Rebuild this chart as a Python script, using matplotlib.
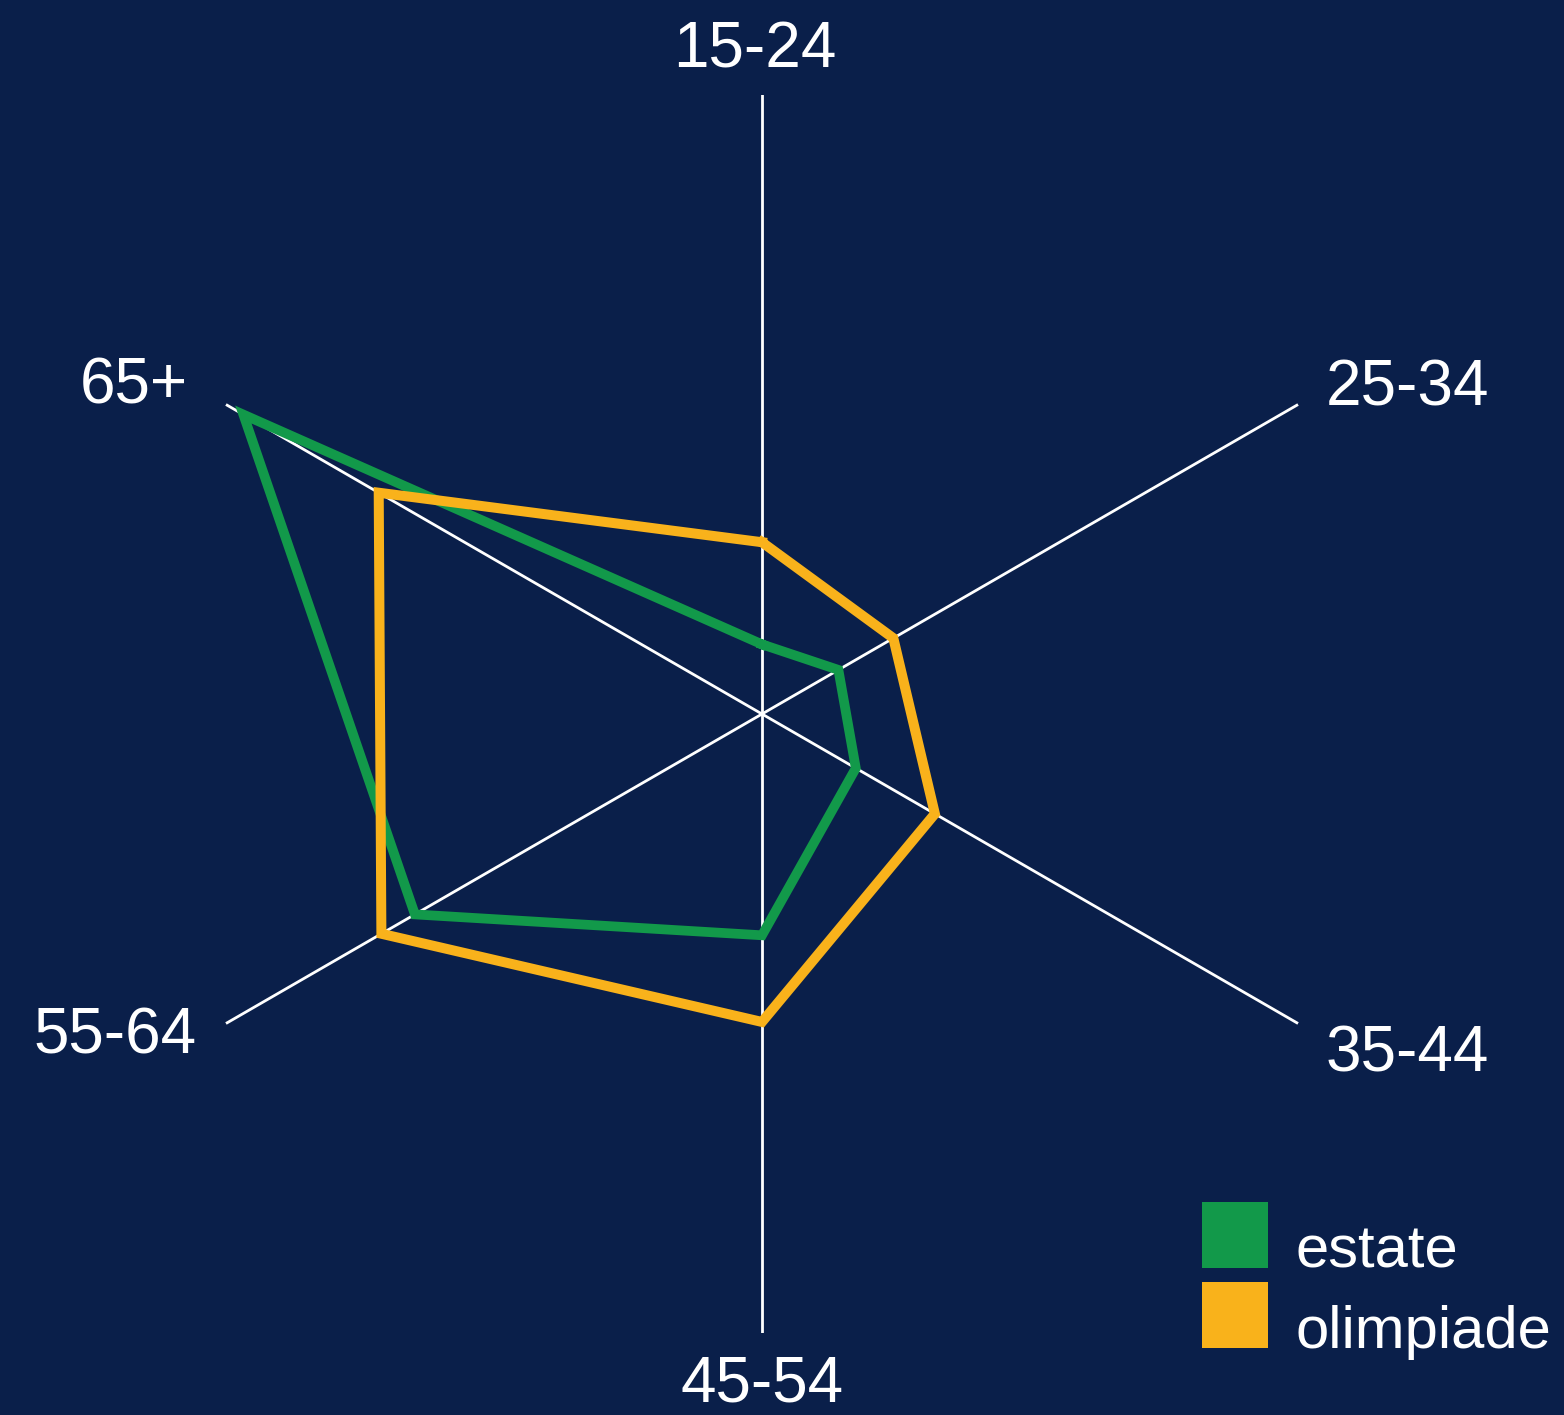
import numpy as np
import matplotlib
matplotlib.use("Agg")
import matplotlib.pyplot as plt
from matplotlib.patches import Rectangle

categories = ["15-24", "25-34", "35-44", "45-54", "55-64", "65+"]
estate = [4.5, 5.7, 7.0, 14.3, 25.9, 38.7]
olimpiade = [11.1, 9.8, 12.9, 19.9, 28.4, 28.6]
series_names = ["estate", "olimpiade"]
R_MAX = 40.0

BG = "#0a1f4a"
GREEN = "#12994a"
YELLOW = "#f9b21b"

W, H = 1564, 1415
fig = plt.figure(figsize=(W / 100, H / 100), dpi=100, facecolor=BG)
cx, cy, rad = 762, 714, 619
ax = fig.add_axes([(cx - rad) / W, (H - cy - rad) / H, 2 * rad / W, 2 * rad / H],
                  projection="polar", facecolor=BG)
ax.set_theta_offset(np.pi / 2)
ax.set_theta_direction(-1)
ax.set_ylim(0, R_MAX)
ax.grid(False)
ax.spines["polar"].set_visible(False)
ax.set_xticks([])
ax.set_yticks([])
ax.patch.set_alpha(0)

n = len(categories)
angles = np.arange(n) * 2 * np.pi / n
for a in angles:
    ax.plot([a, a], [0, R_MAX], color="white", lw=2.0, zorder=1)

closed = np.append(angles, angles[0])
ax.plot(closed, estate + [estate[0]], color=GREEN, lw=7.0, solid_joinstyle="miter", zorder=2)
ax.plot(closed, olimpiade + [olimpiade[0]], color=YELLOW, lw=7.2, solid_joinstyle="miter", zorder=3)

font = "Liberation Sans"
fs = 46
label_pos = {
    "15-24": (755, 68, "center"),
    "25-34": (1326, 405, "left"),
    "35-44": (1326, 1072, "left"),
    "45-54": (762, 1402, "center"),
    "55-64": (197, 1053, "right"),
    "65+": (188, 403, "right"),
}
for c in categories:
    x, y, ha = label_pos[c]
    fig.text(x / W, 1 - y / H, c, color="white", fontsize=fs, family=font,
             ha=ha, va="baseline")

colors = [GREEN, YELLOW]
for i, (name, col) in enumerate(zip(series_names, colors)):
    top = 1202 + i * 80
    fig.patches.append(Rectangle((1202 / W, 1 - (top + 66) / H), 66 / W, 66 / H,
                                 transform=fig.transFigure, facecolor=col,
                                 edgecolor="none"))
    fig.text(1296 / W, 1 - (top + 66) / H, name, color="white", fontsize=43,
             family=font, ha="left", va="baseline")

fig.savefig("out.png", dpi=100, facecolor=BG)
